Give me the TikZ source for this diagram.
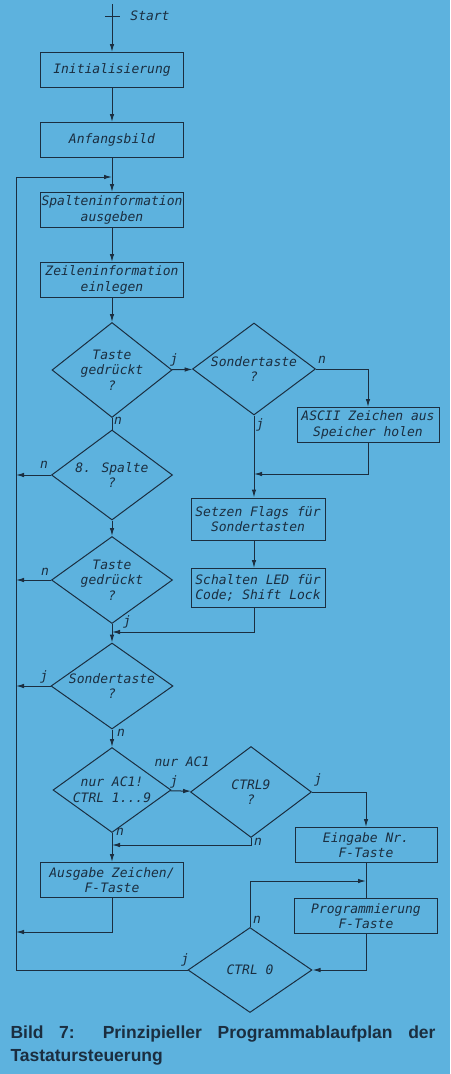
\documentclass[tikz,border=0pt]{standalone}
\usepackage{fontspec}
\setmainfont{Liberation Sans}
\newfontfamily\normfont{DejaVu Sans Mono}
\usetikzlibrary{positioning,arrows.meta,shapes.geometric}
\definecolor{PaperBlue}{HTML}{5DB2DE}
\definecolor{InkBlue}{HTML}{1B2E40}

\begin{document}
\begin{tikzpicture}[x=1pt,y=-1pt,InkBlue,line width=1pt,
  every node/.style={text=InkBlue,font=\normfont\itshape\fontsize{13}{15.5}\selectfont},
  box/.style={draw,inner sep=1pt,align=center,minimum width=143pt,minimum height=35pt},
  ask/.style={draw,diamond,inner sep=-9pt,align=center},
  lab/.style={inner sep=0pt},
  arr/.style={-{Latex[length=8pt,width=4.5pt]}}]
\fill[PaperBlue] (0,0) rectangle (450,1074);
% main column
\coordinate (top) at (112,4);
\node[lab] (start) at (150,16) {Start};
\node[box] (init) at (112,70) {Initialisierung};
\node[box] (anf) at (112,140) {Anfangsbild};
\node[box] (spalt) at (112,210) {Spalteninformation\\ausgeben};
\node[box] (zeil) at (112,280) {Zeileninformation\\einlegen};
\node[ask,minimum width=120pt,minimum height=95pt] (taste1) at (112,370) {Taste\\gedrückt\\?};
\node[ask,minimum width=121pt,minimum height=90pt] (spalte8) at (112,475) {8. Spalte\\?};
\node[ask,minimum width=121pt,minimum height=87pt] (taste2) at (112,580) {Taste\\gedrückt\\?};
\node[ask,minimum width=122pt,minimum height=86pt] (sond2) at (112,686) {Sondertaste\\?};
\node[ask,minimum width=118pt,minimum height=85pt] (ac1) at (112,790) {nur AC1!\\CTRL 1...9};
\node[box] (ausg) at (112,880) {Ausgabe Zeichen/\\F-Taste};
% right column
\node[ask,minimum width=123pt,minimum height=92pt] (sond1) at (254,369) {Sondertaste\\?};
\node[box,minimum width=142pt] (ascii) at (368,425) {ASCII Zeichen aus\\Speicher holen};
\node[box,minimum width=134pt,minimum height=42pt] (flags) at (258,519) {Setzen Flags für\\Sondertasten};
\node[box,minimum width=134pt,minimum height=39pt] (led) at (258,588) {Schalten LED für\\Code; Shift Lock};
\node[ask,minimum width=121pt,minimum height=91pt] (ctrl9) at (251,792) {CTRL9\\?};
\node[box,minimum width=142pt] (eing) at (366,845) {Eingabe Nr.\\F-Taste};
\node[box] (prog) at (366,916) {Programmierung\\F-Taste};
\node[ask,minimum width=124pt,minimum height=85pt] (ctrl0) at (250,970) {CTRL 0};
% junctions
\coordinate (rail) at (16,177);
\coordinate (m0) at (112,177);
\coordinate (m1) at (254,474);
\coordinate (m2) at (112,632);
\coordinate (m3) at (112,845);
\coordinate (m4) at (366,881);
\coordinate (r1) at (16,932);
\coordinate (tickl) at (105,16);
\coordinate (tickr) at (120,16);
% connectors
\draw[arr] (top) -- (init);
\draw (tickl) -- (tickr);
\draw[arr] (init) -- (anf);
\draw[arr] (anf) -- (spalt);
\draw[arr] (spalt) -- (zeil);
\draw[arr] (zeil) -- (taste1);
\draw[arr] (taste1) -- (sond1);
\draw[arr] (sond1.east) -| (ascii.north);
\draw[arr] (ascii.south) |- (m1);
\draw[arr] (sond1.south) -- (sond1.south |- flags.north);
\draw[arr] (flags.south -| sond1.south) -- (led.north -| sond1.south);
\draw[arr] (led.south -| sond1.south) |- (m2);
\draw (taste1) -- (spalte8);
\draw[arr] (spalte8.west) -- (spalte8.west -| rail);
\draw[arr] (spalte8) -- (taste2);
\draw[arr] (taste2.west) -- (taste2.west -| rail);
\draw[arr] (taste2) -- (sond2);
\draw[arr] (sond2.west) -- (sond2.west -| rail);
\draw[arr] (sond2) -- (ac1);
\draw[arr] (ac1) -- (ctrl9);
\draw[arr] (ctrl9.east) -| (eing.north);
\draw[arr] (ctrl9.south) |- (m3);
\draw[arr] (ac1) -- (ausg);
\draw[arr] (ausg.south) |- (r1);
\draw (eing) -- (prog);
\draw[arr] (ctrl0.north) |- (m4);
\draw[arr] (prog.south) |- (ctrl0.east);
\draw[arr] (ctrl0.west) -| (rail) -- (m0);
% labels
\node[lab] at (174,360) {j};
\node[lab] at (118,421) {n};
\node[lab] at (322,360) {n};
\node[lab] at (260,425) {j};
\node[lab] at (44,465) {n};
\node[lab] at (45,572) {n};
\node[lab] at (127,622) {j};
\node[lab] at (44,677) {j};
\node[lab] at (121,733) {n};
\node[lab] at (182,762) {nur AC1};
\node[lab] at (174,782) {j};
\node[lab] at (120,832) {n};
\node[lab] at (318,780) {j};
\node[lab] at (258,842) {n};
\node[lab] at (257,920) {n};
\node[lab] at (185,960) {j};
% caption
\node[anchor=north west,inner sep=0pt,text width=425pt,align=justify,
  font=\bfseries\fontsize{17.5}{23}\selectfont] (cap) at (10,1025)
  {Bild 7: Prinzipieller Programmablaufplan der\linebreak Tastatursteuerung};
\end{tikzpicture}
\end{document}
